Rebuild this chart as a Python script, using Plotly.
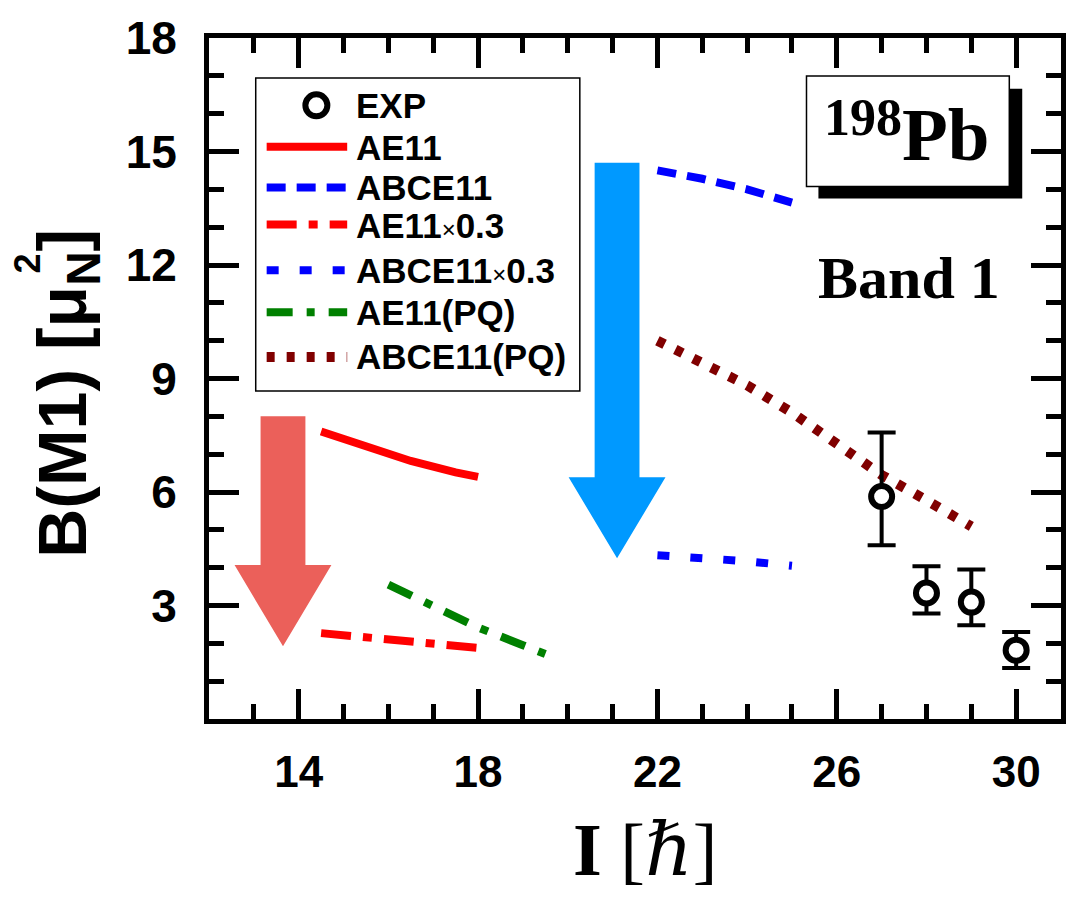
import plotly.graph_objects as go

# ---------------- data ----------------
exp_I = [27, 28, 29, 30]
exp_B = [5.88, 3.33, 3.09, 1.82]
exp_hi = [7.57, 4.04, 3.95, 2.30]
exp_lo = [4.59, 2.79, 2.48, 1.35]

ae11_I = [14.5, 15.5, 16.5, 17.5, 18.0]
ae11_B = [7.60, 7.22, 6.82, 6.52, 6.40]
ae11x03_B = [2.27, 2.15, 2.04, 1.95, 1.88]

abce11_I = [22, 23, 24, 25]
abce11_B = [14.50, 14.28, 14.00, 13.65]
abce11x03_B = [4.33, 4.27, 4.17, 4.05]

ae11pq_I = [16, 17, 18, 19, 19.5]
ae11pq_B = [3.55, 3.00, 2.42, 1.95, 1.72]

abce11pq_I = [22, 23, 24, 25, 26, 27, 28, 29]
abce11pq_B = [10.0, 9.42, 8.82, 8.10, 7.28, 6.45, 5.78, 5.09]

x_tickvals = [14, 18, 22, 26, 30]
y_tickvals = [3, 6, 9, 12, 15, 18]

arrow_I = [13.65, 21.1]
arrow_top = [8.0, 14.7]
arrow_neck = [4.07, 6.39]
arrow_tip = [1.92, 4.25]
arrow_colors = ["#EB605A", "#0099FF"]

legend_names = ["AE11", "ABCE11", "AE11<span style='font-size:24px;font-weight:normal'>×</span>0.3",
                "ABCE11<span style='font-size:24px;font-weight:normal'>×</span>0.3", "AE11(PQ)", "ABCE11(PQ)"]

# ---------------- geometry helpers ----------------
W, H = 1078, 899
L, R, T, B = 209, 12, 36, 180


def px(xp):
    return (xp - L) / (W - L - R)


def py(yp):
    return (H - B - yp) / (H - T - B)


SANS = "Liberation Sans, Arial, sans-serif"
SERIF = "Liberation Serif, Times New Roman, DejaVu Serif, serif"

styles = [
    dict(color="#FF0000", width=8, dash="solid"),
    dict(color="#0000FF", width=8, dash="19px,11px"),
    dict(color="#FF0000", width=8, dash="30px,12px,9px,12px"),
    dict(color="#0000FF", width=8, dash="12px,21px"),
    dict(color="#008000", width=8, dash="26px,14px,8px,14px"),
    dict(color="#800000", width=10, dash="8px,12px"),
]
series = [
    (ae11_I, ae11_B),
    (abce11_I, abce11_B),
    (ae11_I, ae11x03_B),
    (abce11_I, abce11x03_B),
    (ae11pq_I, ae11pq_B),
    (abce11pq_I, abce11pq_B),
]

fig = go.Figure()
for (xs, ys), st in zip(series, styles):
    fig.add_trace(go.Scatter(x=xs, y=ys, mode="lines", line=st, showlegend=False,
                             hoverinfo="skip"))

fig.add_trace(go.Scatter(
    x=exp_I, y=exp_B, mode="markers", showlegend=False,
    marker=dict(symbol="circle", size=21, color="white", line=dict(color="black", width=6)),
    error_y=dict(type="data", symmetric=False,
                 array=[h - v for h, v in zip(exp_hi, exp_B)],
                 arrayminus=[v - l for l, v in zip(exp_lo, exp_B)],
                 color="black", thickness=4, width=14),
))

shapes = []
# big arrows
for xc, yt, yn, ytip, col in zip(arrow_I, arrow_top, arrow_neck, arrow_tip, arrow_colors):
    sw, hw = 0.5, 1.08
    path = (f"M{xc - sw},{yt} L{xc + sw},{yt} L{xc + sw},{yn} L{xc + hw},{yn} "
            f"L{xc},{ytip} L{xc - hw},{yn} L{xc - sw},{yn} Z")
    shapes.append(dict(type="path", path=path, xref="x", yref="y", fillcolor=col,
                       line=dict(width=0), layer="below"))

# legend box
shapes.append(dict(type="rect", xref="paper", yref="paper", x0=px(256), x1=px(582),
                   y0=py(390), y1=py(76), line=dict(color="black", width=1.5),
                   fillcolor="white", layer="above"))
shapes.append(dict(type="circle", xref="paper", yref="paper", xsizemode="pixel",
                   ysizemode="pixel", xanchor=px(317), yanchor=py(103.5),
                   x0=-11, x1=11, y0=-11, y1=11, line=dict(color="black", width=6),
                   fillcolor="white", layer="above"))
row_y = [145, 186, 223, 269, 311, 356]
for yy, st in zip(row_y, styles):
    shapes.append(dict(type="line", xref="paper", yref="paper", x0=px(267), x1=px(348),
                       y0=py(yy), y1=py(yy),
                       line=dict(color=st["color"], width=st["width"], dash=st["dash"]),
                       layer="above"))

# 198Pb box with shadow
shapes.append(dict(type="rect", xref="paper", yref="paper", x0=px(822), x1=px(1027),
                   y0=py(197), y1=py(87), line=dict(width=0), fillcolor="black", layer="above"))
shapes.append(dict(type="rect", xref="paper", yref="paper", x0=px(810), x1=px(1014),
                   y0=py(185), y1=py(74), line=dict(color="black", width=1.5),
                   fillcolor="white", layer="above"))

annotations = []
annotations.append(dict(text="<b>EXP</b>", x=px(355), y=py(104), xref="paper", yref="paper",
                        xanchor="left", yanchor="middle", showarrow=False,
                        font=dict(family=SANS, size=35, color="black")))
for yy, name in zip([146, 186, 224, 269, 311, 355], legend_names):
    annotations.append(dict(text=f"<b>{name}</b>", x=px(355), y=py(yy), xref="paper",
                            yref="paper", xanchor="left", yanchor="middle", showarrow=False,
                            font=dict(family=SANS, size=35, color="black")))

annotations.append(dict(text="<b>198</b>", x=px(867), y=py(116), xref="paper", yref="paper",
                        xanchor="center", yanchor="middle", showarrow=False,
                        font=dict(family=SERIF, size=52, color="black")))
annotations.append(dict(text="<b>Pb</b>", x=px(950), y=py(133), xref="paper", yref="paper",
                        xanchor="center", yanchor="middle", showarrow=False,
                        font=dict(family=SERIF, size=75, color="black")))
annotations.append(dict(text="<b>Band 1</b>", x=px(913), y=py(277), xref="paper", yref="paper",
                        xanchor="center", yanchor="middle", showarrow=False,
                        font=dict(family=SERIF, size=60, color="black")))

# axis titles
annotations.append(dict(text="<b>B(M1) [μ<sub>N</sub>]</b>", x=px(66), y=py(392), xref="paper",
                        yref="paper", xanchor="center", yanchor="middle", textangle=-90,
                        showarrow=False, font=dict(family=SANS, size=68, color="black")))
annotations.append(dict(text="<b>2</b>", x=px(26), y=py(262), xref="paper", yref="paper",
                        xanchor="center", yanchor="middle", textangle=-90, showarrow=False,
                        font=dict(family=SANS, size=36, color="black")))
annotations.append(dict(text="<b>I</b> [<i>ℏ</i>]", x=px(648), y=py(850), xref="paper",
                        yref="paper", xanchor="center", yanchor="middle", showarrow=False,
                        font=dict(family=SERIF, size=74, color="black")))

axis_common = dict(showline=True, linewidth=5, linecolor="black", mirror="ticks",
                   ticks="inside", ticklen=30, tickwidth=5, tickcolor="black",
                   showgrid=False, zeroline=False)

fig.update_layout(
    width=W, height=H,
    margin=dict(l=L, r=R, t=T, b=B, pad=0),
    paper_bgcolor="white", plot_bgcolor="white",
    showlegend=False,
    shapes=shapes, annotations=annotations,
    xaxis=dict(range=[12, 31], tickvals=x_tickvals, ticktext=[str(v) for v in x_tickvals],
               tickfont=dict(family=SANS, size=44, color="black", weight="bold"),
               ticklabelstandoff=10,
               minor=dict(dtick=1, tick0=12, ticks="inside", ticklen=15, tickwidth=5,
                          tickcolor="black"),
               **axis_common),
    yaxis=dict(range=[0, 18], tickvals=y_tickvals, ticktext=[str(v) for v in y_tickvals],
               tickfont=dict(family=SANS, size=46, color="black", weight="bold"),
               ticklabelstandoff=18,
               minor=dict(dtick=1, tick0=0, ticks="inside", ticklen=15, tickwidth=5,
                          tickcolor="black"),
               **axis_common),
)

fig.write_html("out.html")
